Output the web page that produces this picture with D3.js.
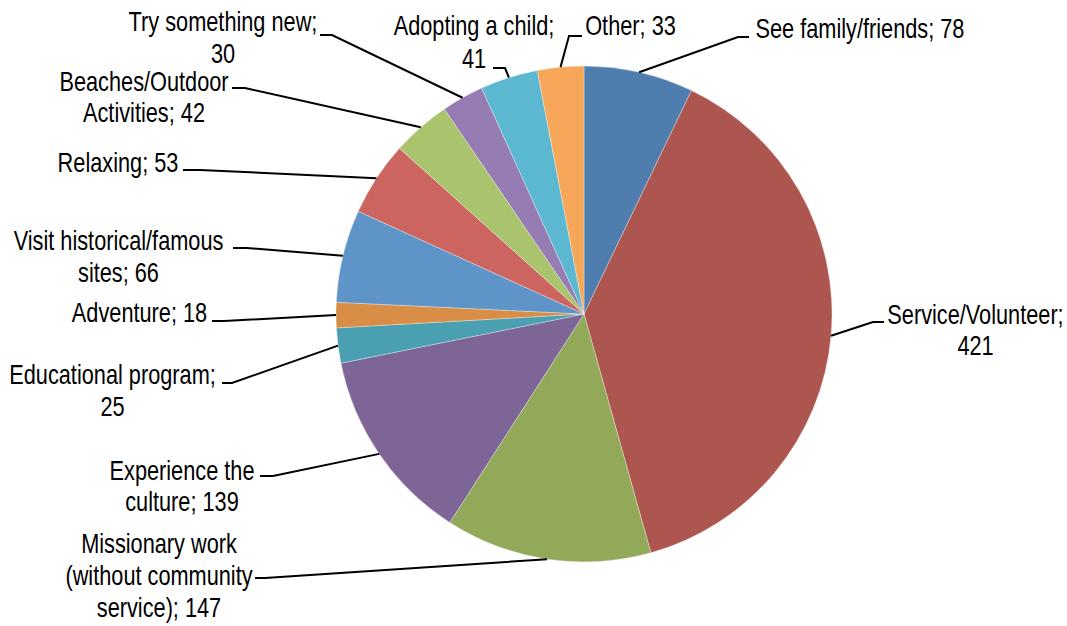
<!DOCTYPE html>
<html>
<head>
<meta charset="utf-8">
<script src="https://cdn.jsdelivr.net/npm/d3@7"></script>
<style>
  html, body { margin: 0; padding: 0; background: #fff; }
  svg { display: block; }
  .lbl { font-family: "Liberation Sans", Arial, sans-serif; font-size: 27px; fill: #000; }
</style>
</head>
<body>
<svg id="chart" width="1067" height="626"></svg>
<script>
// Reasons for travel: answers per category, clockwise from 12 o'clock
const categories = [
  "See family/friends",
  "Service/Volunteer",
  "Missionary work (without community service)",
  "Experience the culture",
  "Educational program",
  "Adventure",
  "Visit historical/famous sites",
  "Relaxing",
  "Beaches/Outdoor Activities",
  "Try something new",
  "Adopting a child",
  "Other"
];
const values = [78, 421, 147, 139, 25, 18, 66, 53, 42, 30, 41, 33];
const colors = [
  "#4f7eae", "#ad5650", "#93a95a", "#7e6597", "#4a9fb1", "#d88e47",
  "#5e94c8", "#cc6560", "#aac36d", "#957cb2", "#5cb8d0", "#f6a75a"
];

// Label layout: words per line, text centre x, first baseline, line step,
// leader elbow and leader end next to the text
const labelLayout = [
  { words: [],     cx: 860,   y: 38,  step: 32, elbow: [738, 37],  end: [749, 37] },
  { words: [1],    cx: 975.5, y: 324, step: 31, elbow: [873, 322], end: [884, 322] },
  { words: [2, 2], cx: 159,   y: 553, step: 32, elbow: [265, 578], end: [255, 578] },
  { words: [2],    cx: 182,   y: 480, step: 31, elbow: [273, 476], end: [260, 476] },
  { words: [2],    cx: 112.5, y: 384, step: 32, elbow: [232, 383], end: [222, 383] },
  { words: [],     cx: 139.5, y: 322, step: 32, elbow: [224, 321], end: [212, 321] },
  { words: [2],    cx: 118.5, y: 250, step: 32, elbow: [247, 248], end: [233, 248] },
  { words: [],     cx: 118,   y: 172, step: 32, elbow: [200, 170], end: [183, 170] },
  { words: [1],    cx: 144,   y: 91,  step: 31, elbow: [245, 88],  end: [232, 88] },
  { words: [3],    cx: 223,   y: 31,  step: 32, elbow: [332, 35],  end: [320, 35] },
  { words: [3],    cx: 474,   y: 35,  step: 33, elbow: [505, 68],  end: [493, 68] },
  { words: [],     cx: 630.5, y: 35,  step: 32, elbow: [569, 36],  end: [582, 36] }
];
const narrow = 0.805; // horizontal squeeze giving a narrow face

const cx = 584, cy = 314, radius = 248;

const svg = d3.select("#chart");
const g = svg.append("g").attr("transform", `translate(${cx},${cy})`);

const data = categories.map((c, i) => ({ name: c, value: values[i], color: colors[i], i }));

const pie = d3.pie().value(d => d.value).sort(null);
const arcs = pie(data);

const arc = d3.arc().innerRadius(0).outerRadius(radius);
const edge = d3.arc().innerRadius(radius).outerRadius(radius);

g.selectAll("path.slice")
  .data(arcs)
  .join("path")
  .attr("class", "slice")
  .attr("d", arc)
  .attr("fill", d => d.data.color)
  .attr("stroke", "rgba(255,255,255,0.45)")
  .attr("stroke-width", 0.7)
  .attr("stroke-linejoin", "round");

// Leader lines from the rim of each slice to its label
const line = d3.line();
svg.append("g").selectAll("path.leader")
  .data(arcs)
  .join("path")
  .attr("class", "leader")
  .attr("fill", "none")
  .attr("stroke", "#000")
  .attr("stroke-width", 2)
  .attr("d", d => {
    const c = edge.centroid(d);
    const L = labelLayout[d.index];
    return line([[cx + c[0], cy + c[1]], L.elbow, L.end]);
  });

// Data labels: "category; value", wrapped and centred
function splitLines(text, words) {
  const parts = text.split(" ");
  const out = [];
  let k = 0;
  words.forEach(n => { out.push(parts.slice(k, k + n).join(" ")); k += n; });
  out.push(parts.slice(k).join(" "));
  return out;
}

const labels = svg.append("g").selectAll("text")
  .data(arcs)
  .join("text")
  .attr("class", "lbl")
  .attr("text-anchor", "middle")
  .attr("transform", d => `translate(${labelLayout[d.index].cx},0) scale(${narrow},1)`);

labels.each(function(d) {
  const L = labelLayout[d.index];
  const lines = splitLines(`${d.data.name}; ${d.data.value}`, L.words);
  d3.select(this).selectAll("tspan")
    .data(lines)
    .join("tspan")
    .attr("x", 0)
    .attr("y", (t, j) => L.y + j * L.step)
    .text(t => t);
});
</script>
</body>
</html>
